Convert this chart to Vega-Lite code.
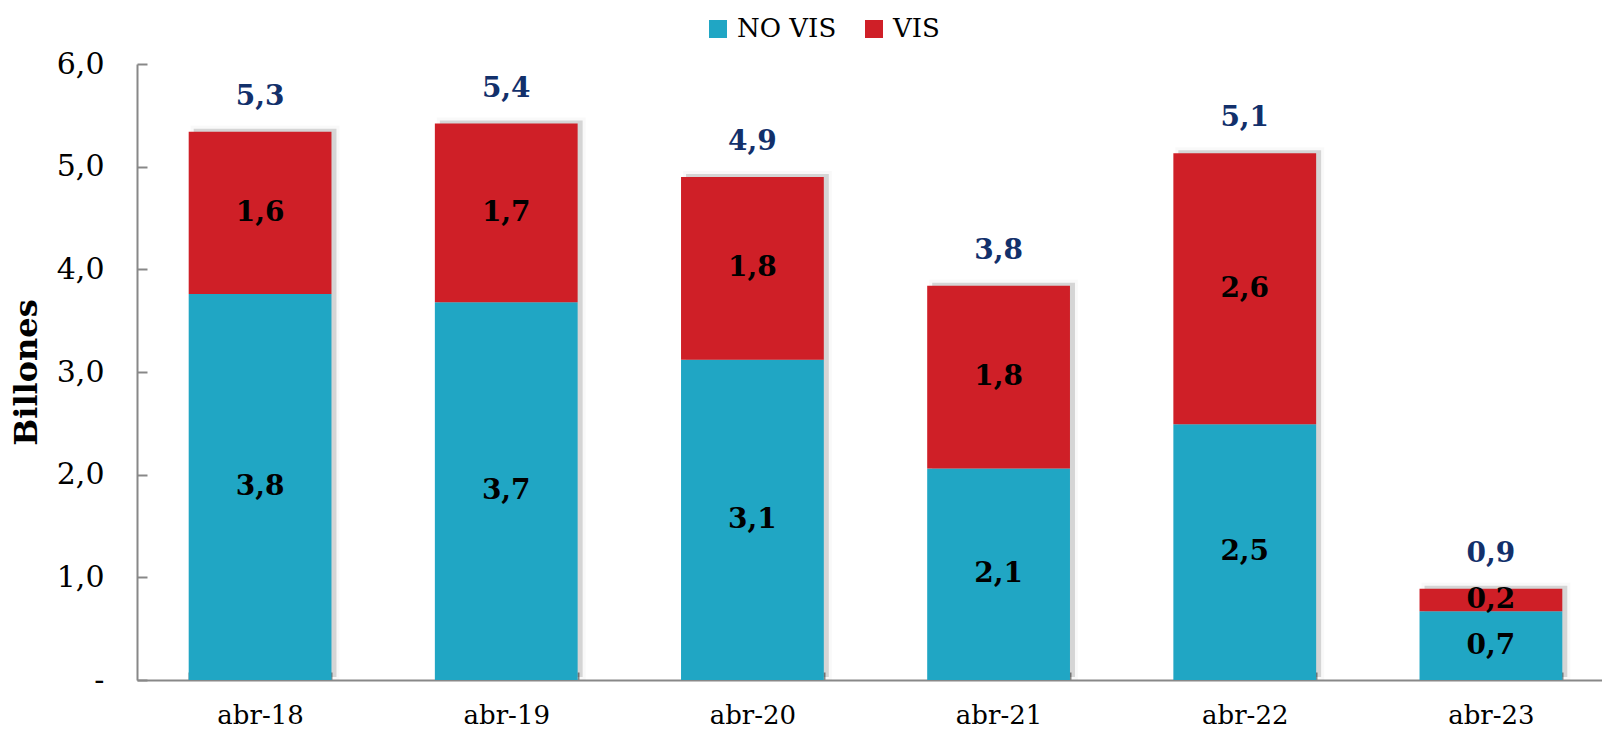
{
  "$schema": "https://vega.github.io/schema/vega-lite/v6.json",
  "width": 1477,
  "height": 616,
  "autosize": {"type": "none"},
  "padding": {"left": 137, "top": 64, "right": 0, "bottom": 52},
  "config": {
    "view": {"stroke": null},
    "font": "DejaVu Serif",
    "locale": {"number": {"decimal": ",", "thousands": ".", "grouping": [3], "currency": ["$", ""]}},
    "axis": {"grid": false, "domainColor": "#888888", "domainWidth": 2, "tickColor": "#888888", "tickWidth": 2, "labelFont": "DejaVu Serif", "labelColor": "#000000", "labelFontSize": 26}
  },
  "data": {
    "values": [
      {"periodo": "abr-18", "serie": "NO VIS", "valor": 3.76},
      {"periodo": "abr-18", "serie": "VIS", "valor": 1.58},
      {"periodo": "abr-19", "serie": "NO VIS", "valor": 3.68},
      {"periodo": "abr-19", "serie": "VIS", "valor": 1.74},
      {"periodo": "abr-20", "serie": "NO VIS", "valor": 3.12},
      {"periodo": "abr-20", "serie": "VIS", "valor": 1.78},
      {"periodo": "abr-21", "serie": "NO VIS", "valor": 2.06},
      {"periodo": "abr-21", "serie": "VIS", "valor": 1.78},
      {"periodo": "abr-22", "serie": "NO VIS", "valor": 2.49},
      {"periodo": "abr-22", "serie": "VIS", "valor": 2.64},
      {"periodo": "abr-23", "serie": "NO VIS", "valor": 0.67},
      {"periodo": "abr-23", "serie": "VIS", "valor": 0.22}
    ]
  },
  "encoding": {
    "x": {
      "field": "periodo", "type": "nominal", "title": null, "sort": null,
      "scale": {"paddingInner": 0.42, "paddingOuter": 0.21},
      "axis": {"labelAngle": 0, "tickSize": -8, "labelPadding": 30, "tickBand": "extent"}
    }
  },
  "layer": [
    {
      "transform": [{"aggregate": [{"op": "sum", "field": "valor", "as": "total"}], "groupby": ["periodo"]}],
      "mark": {"type": "bar", "color": "#000000", "opacity": 0.16, "xOffset": 5, "yOffset": -3, "stroke": "#000000", "strokeWidth": 6, "strokeOpacity": 0.12},
      "encoding": {
        "y": {"field": "total", "type": "quantitative", "scale": {"domain": [0, 6]}}
      }
    },
    {
      "transform": [
        {"stack": "valor", "groupby": ["periodo"], "sort": [{"field": "serie", "order": "ascending"}], "as": ["y0", "y1"]}
      ],
      "layer": [
        {
          "mark": {"type": "bar"},
          "encoding": {
            "y": {
              "field": "y1", "type": "quantitative", "title": "Billones",
              "scale": {"domain": [0, 6]},
              "axis": {
                "values": [0, 1, 2, 3, 4, 5, 6],
                "tickSize": -10, "labelPadding": 43, "labelFontSize": 30,
                "labelExpr": "datum.value == 0 ? '-' : replace(format(datum.value, '.1f'), '.', ',')",
                "titleFont": "DejaVu Serif", "titleFontSize": 32, "titleFontWeight": "bold", "titleColor": "#000000", "titlePadding": 13
              }
            },
            "y2": {"field": "y0"},
            "color": {
              "field": "serie", "type": "nominal",
              "scale": {"domain": ["NO VIS", "VIS"], "range": ["#20A6C4", "#CF1F27"]},
              "legend": {
                "title": null, "orient": "none", "direction": "horizontal", "legendX": 568, "legendY": -48,
                "symbolType": "square", "symbolSize": 324, "symbolStrokeWidth": 0, "symbolOpacity": 1,
                "labelFont": "DejaVu Serif", "labelFontSize": 26, "labelColor": "#000000", "columnPadding": 24, "labelOffset": 6
              }
            }
          }
        },
        {
          "transform": [{"calculate": "(datum.y0 + datum.y1) / 2", "as": "mid"}],
          "mark": {"type": "text", "font": "DejaVu Serif", "fontSize": 28, "fontWeight": "bold", "color": "#000000", "baseline": "middle"},
          "encoding": {
            "y": {"field": "mid", "type": "quantitative"},
            "text": {"field": "valor", "type": "quantitative", "format": ".1f"}
          }
        }
      ]
    },
    {
      "transform": [{"aggregate": [{"op": "sum", "field": "valor", "as": "total"}], "groupby": ["periodo"]}],
      "mark": {"type": "text", "font": "DejaVu Serif", "fontSize": 28, "fontWeight": "bold", "color": "#12306B", "baseline": "middle", "dy": -35},
      "encoding": {
        "y": {"field": "total", "type": "quantitative"},
        "text": {"field": "total", "type": "quantitative", "format": ".1f"}
      }
    }
  ]
}
